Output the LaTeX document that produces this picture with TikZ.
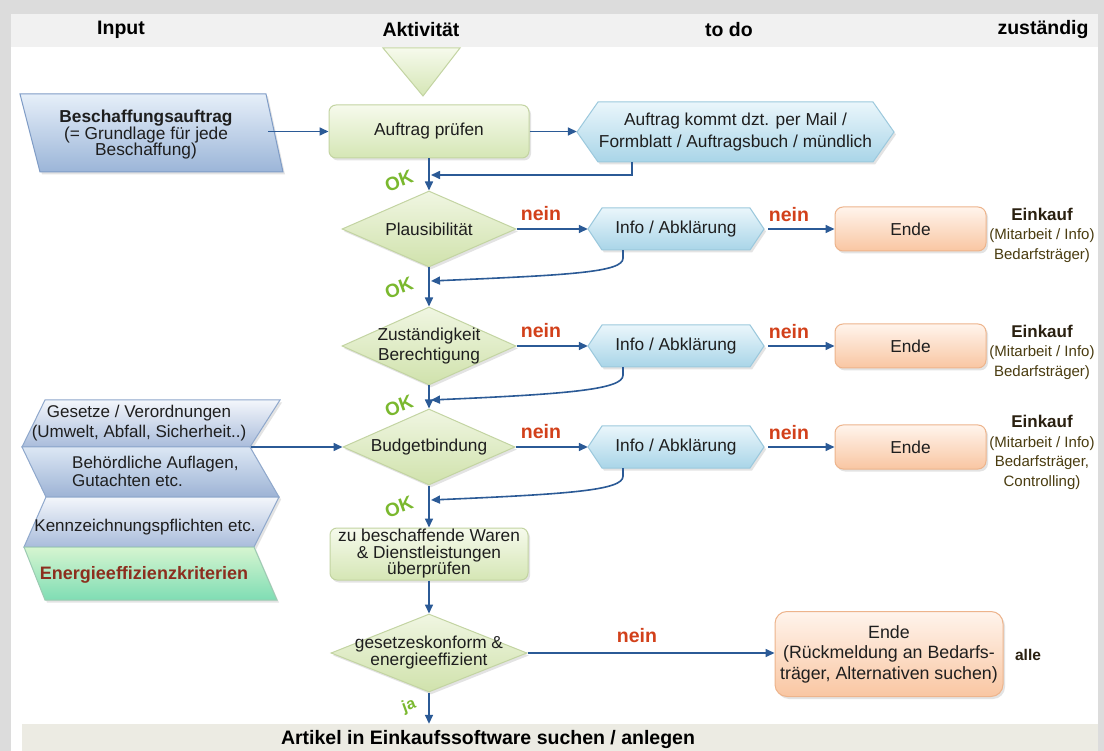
\documentclass[tikz,border=0pt]{standalone}
\usepackage{fontspec}
\setmainfont{Liberation Sans}
\usetikzlibrary{shapes.geometric,arrows.meta,shadows,calc}
\definecolor{bggrey}{HTML}{DCDCDC}
\definecolor{headgrey}{HTML}{F1F1F1}
\definecolor{botband}{HTML}{ECEBE3}
\definecolor{arrblue}{HTML}{2B5A96}
\definecolor{neinred}{HTML}{D2401A}
\definecolor{okgreen}{HTML}{7AB82E}
\definecolor{grtop}{HTML}{F6FAEC}
\definecolor{grbot}{HTML}{D5E6B5}
\definecolor{grdraw}{HTML}{C3D4A2}
\definecolor{dmtop}{HTML}{F0F6E2}
\definecolor{dmbot}{HTML}{D0E2AC}
\definecolor{bltop}{HTML}{EAF6FB}
\definecolor{blbot}{HTML}{A9D5E8}
\definecolor{bldraw}{HTML}{9CC9DD}
\definecolor{ortop}{HTML}{FFF4EC}
\definecolor{orbot}{HTML}{F9C6A2}
\definecolor{ordraw}{HTML}{EDB48C}
\definecolor{pbtop}{HTML}{E6EFF9}
\definecolor{pbbot}{HTML}{9BB5D8}
\definecolor{pbdraw}{HTML}{7F9CC6}
\definecolor{satop}{HTML}{F3F6FB}
\definecolor{sabot}{HTML}{A9BCDB}
\definecolor{sbtop}{HTML}{DCE7F4}
\definecolor{sbbot}{HTML}{9DB3D5}
\definecolor{sdraw}{HTML}{8FA8CC}
\definecolor{engtop}{HTML}{D6F5D0}
\definecolor{engbot}{HTML}{7FDDB4}
\definecolor{engdraw}{HTML}{9CCBB2}
\definecolor{zuscol}{HTML}{4A3C10}
\definecolor{einkcol}{HTML}{2A2010}
\definecolor{energcol}{HTML}{8C2E1E}
\definecolor{txt}{HTML}{1E1E1E}
\newcommand\myhex[5]{\path[bluehex] (#1,{(#3+#4)/2}) -- ({#1+#5},#3) -- ({#2-#5},#3) -- (#2,{(#3+#4)/2}) -- ({#2-#5},#4) -- ({#1+#5},#4) -- cycle;}
\tikzset{
  body/.style={font=\fontsize{17.3}{19}\selectfont, text=txt, align=center, inner sep=0pt},
  arr/.style={draw=arrblue, line width=1.6pt, -{Triangle[length=9pt,width=8pt]}},
  shad/.style={drop shadow={opacity=0.22, shadow xshift=2pt, shadow yshift=-2.5pt}},
  greenbox/.style={body, rectangle, rounded corners=7pt, draw=grdraw, line width=1pt, top color=grtop, bottom color=grbot, shad},
  decision/.style={diamond, draw=grdraw, line width=1pt, top color=dmtop, bottom color=dmbot, shad, inner sep=0pt},
  endbox/.style={body, rectangle, rounded corners=8pt, draw=ordraw, line width=1pt, top color=ortop, bottom color=orbot, shad},
  bluehex/.style={draw=bldraw, line width=1pt, top color=bltop, bottom color=blbot, shad},
  neinlab/.style={font=\bfseries\fontsize{19.5}{21}\selectfont, text=neinred, inner sep=0pt},
  oklab/.style={font=\bfseries\fontsize{19}{21}\selectfont, text=okgreen, rotate=20, inner sep=0pt},
  head/.style={font=\bfseries\fontsize{19.5}{21}\selectfont, text=black, inner sep=0pt},
  zust/.style={font=\fontsize{15}{19.5}\selectfont, text=zuscol, align=center, inner sep=0pt},
  stackA/.style={draw=sdraw, line width=1pt, top color=satop, bottom color=sabot, shad},
  stackB/.style={draw=sdraw, line width=1pt, top color=sbtop, bottom color=sbbot, shad},
  stackE/.style={draw=engdraw, line width=1pt, top color=engtop, bottom color=engbot, shad},
}
\begin{document}
\begin{tikzpicture}[x=1pt,y=-1pt]
\useasboundingbox (0,0) rectangle (1104,751);
\fill[bggrey] (0,0) rectangle (1104,751);
\fill[white] (11,14) rectangle (1098,751);
\fill[headgrey] (11,14) rectangle (1098,47);

% header
\node[head] (hInput) at (121,30) {Input};
\node[head] (hAkt) at (421,30) {Aktivität};
\node[head] (hTodo) at (729,30) {to do};
\node[head] (hZust) at (1043,30) {zuständig};

% bottom band
\node[fill=botband, inner sep=0pt, minimum width=1076pt, minimum height=27pt] (band) at (560,737.5) {};
\node[font=\bfseries\fontsize{19.5}{21}\selectfont, inner sep=0pt] (artikel) at (488,739) {Artikel in Einkaufssoftware suchen / anlegen};

% start triangle
\path[draw=grdraw, line width=1pt, top color=grtop, bottom color=grbot] (383,48) -- (460,48) -- (423,96) -- cycle;

% Beschaffungsauftrag
\path[draw=pbdraw, line width=1pt, top color=pbtop, bottom color=pbbot, shad] (20,94) -- (266,94) -- (283,172) -- (40,172) -- cycle;
\node[body, font=\fontsize{17.3}{16.5}\selectfont, minimum width=244pt] (besch) at (146,135) {\textbf{Beschaffungsauftrag}\\(= Grundlage für jede\\Beschaffung)};

% Auftrag pruefen
\node[greenbox, minimum width=200pt, minimum height=53pt] (pruef) at (429,131.5) {Auftrag prüfen};
\draw[arr] (besch.east |- pruef.west) -- (pruef.west);

% hexagon 1
\myhex{577}{894}{102}{162}{21}
\node[body, font=\fontsize{17.3}{22}\selectfont, minimum width=317pt, minimum height=60pt] (hex1) at (735.5,132) {Auftrag kommt dzt. per Mail /\\Formblatt / Auftragsbuch / mündlich};
\draw[arr] (pruef.east) -- (pruef.east -| hex1.west);
\coordinate (fb1) at (431,175);
\draw[arr] ([xshift=-103.5pt]hex1.south) |- (fb1);

% Plausibilitaet
\node[decision, minimum width=174pt, minimum height=76pt] (plaus) at (429,229) {};
\node[body] (plausT) at (plaus.center) {Plausibilität};
\draw[arr] (pruef.south) -- (plaus.north);
\node[oklab] (ok1) at (399,181) {OK};

\myhex{588}{764}{208}{250}{14}
\node[body, minimum width=176pt, minimum height=42pt] (info1) at (676,229) {Info / Abklärung};
\node[endbox, minimum width=151pt, minimum height=44pt] (ende1) at (910.5,229) {Ende};
\draw[arr] (plaus.east) -- (info1.west);
\draw[arr, shorten <=4pt] (info1.east) -- (ende1.west);
\node[neinlab] (nein1) at (541,214) {nein};
\node[neinlab] (nein2) at (789,215) {nein};
\node[zust] (ek1) at (1042,235) {{\bfseries\fontsize{17}{19.5}\selectfont\color{einkcol}Einkauf}\\(Mitarbeit / Info)\\Bedarfsträger)};
\coordinate (fb2) at (431,281);
\draw[arr] ([xshift=-53pt]info1.south) -- ++(0,8) .. controls +(0,14) and +(140,-6) .. (fb2);
\node[oklab] (ok2) at (399,288) {OK};

% Zustaendigkeit
\node[decision, minimum width=174pt, minimum height=78pt] (zustd) at (429,346) {};
\node[body, font=\fontsize{17.3}{19.5}\selectfont] (zustT) at (zustd.center) {Zuständigkeit\\Berechtigung};
\draw[arr] (plaus.south) -- (zustd.north);

\myhex{588}{764}{325}{367}{14}
\node[body, minimum width=176pt, minimum height=42pt] (info2) at (676,346) {Info / Abklärung};
\node[endbox, minimum width=151pt, minimum height=44pt] (ende2) at (910.5,346) {Ende};
\draw[arr] (zustd.east) -- (info2.west);
\draw[arr, shorten <=4pt] (info2.east) -- (ende2.west);
\node[neinlab] (nein3) at (541,331) {nein};
\node[neinlab] (nein4) at (789,332) {nein};
\node[zust] (ek2) at (1042,352) {{\bfseries\fontsize{17}{19.5}\selectfont\color{einkcol}Einkauf}\\(Mitarbeit / Info)\\Bedarfsträger)};
\coordinate (fb3) at (431,400);
\draw[arr] ([xshift=-53pt]info2.south) -- ++(0,8) .. controls +(0,14) and +(140,-6) .. (fb3);
\node[oklab] (ok3) at (399,406) {OK};

% left input stack
\path[stackA] (45,400) -- (280,400) -- (250,447) -- (22,447) -- cycle;
\path[stackB] (22,447) -- (250,447) -- (279,497) -- (46,497) -- cycle;
\path[stackA] (46,497) -- (279,497) -- (254,547) -- (24,547) -- cycle;
\path[stackE] (24,547) -- (254,547) -- (277,600) -- (45,600) -- cycle;
\node[body, font=\fontsize{17}{20}\selectfont] (ges) at (139,423) {Gesetze / Verordnungen\\(Umwelt, Abfall, Sicherheit..)};
\node[body, font=\fontsize{17}{18}\selectfont, align=left, anchor=west] (behoerd) at (72,471) {Behördliche Auflagen,\\Gutachten etc.};
\node[body, font=\fontsize{17}{19}\selectfont] (kennz) at (145,527) {Kennzeichnungspflichten etc.};
\node[font=\bfseries\fontsize{18}{20}\selectfont, text=energcol, inner sep=0pt] (energ) at (144,575) {Energieeffizienzkriterien};
\coordinate (stackR) at (251,447);

% Budgetbindung
\node[decision, minimum width=172pt, minimum height=76pt] (budget) at (429,447) {};
\node[body] (budgetT) at (budget.center) {Budgetbindung};
\draw[arr] (zustd.south) -- (budget.north);
\draw[arr] (stackR) -- (budget.west);

\myhex{588}{764}{426}{468}{14}
\node[body, minimum width=176pt, minimum height=42pt] (info3) at (676,447) {Info / Abklärung};
\node[endbox, minimum width=151pt, minimum height=44pt] (ende3) at (910.5,447) {Ende};
\draw[arr] (budget.east) -- (info3.west);
\draw[arr, shorten <=4pt] (info3.east) -- (ende3.west);
\node[neinlab] (nein5) at (541,432) {nein};
\node[neinlab] (nein6) at (789,433) {nein};
\node[zust] (ek3) at (1042,452.5) {{\bfseries\fontsize{17}{19.5}\selectfont\color{einkcol}Einkauf}\\(Mitarbeit / Info)\\Bedarfsträger,\\Controlling)};
\coordinate (fb4) at (431,500);
\draw[arr] ([xshift=-53pt]info3.south) -- ++(0,8) .. controls +(0,14) and +(140,-6) .. (fb4);
\node[oklab] (ok4) at (399,507) {OK};

% Waren pruefen
\node[greenbox, font=\fontsize{17.3}{16.5}\selectfont, minimum width=198pt, minimum height=52pt] (waren) at (429,554) {zu beschaffende Waren\\\& Dienstleistungen\\überprüfen};
\draw[arr] (budget.south) -- (waren.north);

% gesetzeskonform
\node[decision, minimum width=196pt, minimum height=78pt] (gk) at (429,653) {};
\node[body, font=\fontsize{17.3}{17}\selectfont] (gkT) at (gk.center) {gesetzeskonform \&\\energieeffizient};
\draw[arr] (waren.south) -- (gk.north);

\node[endbox, rounded corners=12pt, font=\fontsize{17.8}{20.5}\selectfont, minimum width=228pt, minimum height=85pt] (ende4) at (889,654) {Ende\\(Rückmeldung an Bedarfs-\\träger, Alternativen suchen)};
\draw[arr] (gk.east) -- (gk.east -| ende4.west);
\node[neinlab] (nein7) at (637,636) {nein};
\node[font=\bfseries\fontsize{15.5}{18}\selectfont, text=einkcol, inner sep=0pt] (alle) at (1028,655) {alle};

\draw[arr] (gk.south) -- (gk.south |- band.north);
\node[font=\bfseries\fontsize{16}{18}\selectfont, text=okgreen, rotate=20, inner sep=0pt] (ja) at (409,706) {ja};
\end{tikzpicture}
\end{document}
